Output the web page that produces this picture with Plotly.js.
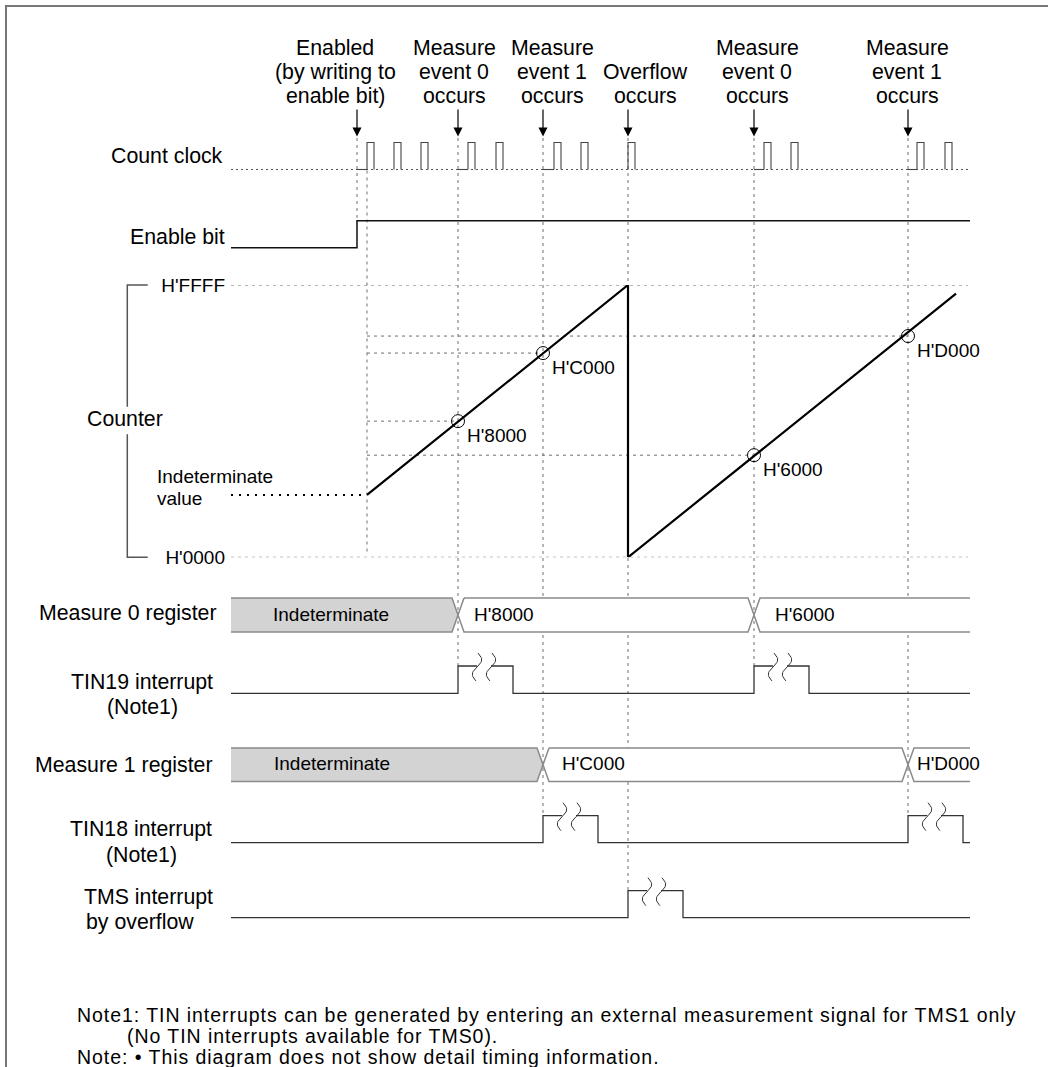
<!DOCTYPE html>
<html>
<head>
<meta charset="utf-8">
<script src="https://cdn.plot.ly/plotly-3.0.1.min.js"></script>
<style>html,body{margin:0;padding:0;background:#fff}#chart{width:1048px;height:1067px}</style>
</head>
<body>
<div id="chart"></div>
<script>
// ================= DATA (time units along the diagram) =================
const eventTimes = [357, 458, 543, 628, 754, 908];
const eventLabels = [
  ["Enabled", "(by writing to", "enable bit)"],
  ["Measure", "event 0", "occurs"],
  ["Measure", "event 1", "occurs"],
  ["Overflow", "occurs"],
  ["Measure", "event 0", "occurs"],
  ["Measure", "event 1", "occurs"]
];
const clockPulseTimes = [367, 394, 421, 468, 496, 554, 581, 628, 764, 791, 917, 945];
const clockPulseWidth = 7;
const traceStart = 231;
const traceEnd = 970;
const clockEnd = 969;

const enableTimes = [231, 357, 357, 970];
const enableLevels = [0, 0, 1, 1];

const counterStartTime = 367;
const indeterminateValue = 15000;
const counterTimes = [367, 628, 628, 956];
const counterValues = [15000, 65535, 0, 63450];
const counterTickValues = [0x0000, 0xFFFF];
const counterTickLabels = ["H'0000", "H'FFFF"];

const captureTimes = [458, 543, 754, 908];
const captureValues = [0x8000, 0xC000, 0x6000, 0xD000];
const captureLabels = ["H'8000", "H'C000", "H'6000", "H'D000"];

const measure0Times = [231, 458, 754];
const measure0Values = ["Indeterminate", "H'8000", "H'6000"];
const measure1Times = [231, 543, 908];
const measure1Values = ["Indeterminate", "H'C000", "H'D000"];

const tin19PulseTimes = [458, 754];
const tin18PulseTimes = [543, 908];
const tmsPulseTimes = [628];
const interruptPulseWidth = 55;

const noteLines = [
  "Note1: TIN interrupts can be generated by entering an external measurement signal for TMS1 only",
  "(No TIN interrupts available for TMS0).",
  "Note: \u2022 This diagram does not show detail timing information."
];

// ================= LAYOUT / STYLE =================
const W = 1048, H = 1067;
const FONT = "Liberation Sans, Arial, Helvetica, sans-serif";
const BIG = 21.3, SMALL = 19, NOTE = 19.5;
const Y = {
  evLines3: [47.7, 72, 95.5], evLines2: [72, 95.5],
  arrowTop: 108, arrowTip: 136.5,
  clkBase: 169.5, clkHigh: 142.5,
  enLow: 247.7, enHigh: 220.7,
  cntTop: 285, cntBot: 557.3,
  m0Top: 598, m0Bot: 632,
  tin19Low: 693.3, tin19High: 666,
  m1Top: 748, m1Bot: 781.5,
  tin18Low: 842.7, tin18High: 815.7,
  tmsLow: 917.7, tmsHigh: 890.7
};
const eventLabelX = [335, 454, 552, 645, 757, 907];
const eventLineStart = 138;
const eventLineEnd = [Y.enHigh, Y.tin19High, Y.tin18High, Y.tmsHigh, Y.tin19High, Y.tin18High];
const counterStartLine = [Y.clkBase + 1, 553];
const gridEnd = 968;
const m0LabelOffsets = [40, 14, 19];
const m1LabelOffsets = [41, 17, 7];
const squiggleOffsets = [19, 33];
const transHalf = 6;

const GRID = {color: '#6f6f6f', width: 1, dash: '3px,4px'};
const WAVE = {color: '#333', width: 1.3};

const traces = [];
const y2dom = [(H - Y.cntBot) / H, (H - Y.cntTop) / H];

// frame
traces.push({x: [W, 6, 6], y: [6, 6, H], mode: 'lines', line: {color: '#777', width: 2}, hoverinfo: 'skip'});

// vertical event dashed lines
{
  const xs = [], ys = [];
  eventTimes.forEach((t, i) => { xs.push(t, t, null); ys.push(eventLineStart, eventLineEnd[i], null); });
  xs.push(counterStartTime, counterStartTime); ys.push(counterStartLine[0], counterStartLine[1]);
  traces.push({x: xs, y: ys, mode: 'lines', line: GRID, hoverinfo: 'skip'});
}

// clock baseline dotted
traces.push({x: [traceStart, clockEnd], y: [Y.clkBase, Y.clkBase], mode: 'lines',
  line: {color: '#555', width: 1, dash: '2px,3px'}, hoverinfo: 'skip'});
// clock pulses + lead segments after events
{
  const xs = [], ys = [];
  clockPulseTimes.forEach(t => {
    xs.push(t, t, t + clockPulseWidth, t + clockPulseWidth, null);
    ys.push(Y.clkBase, Y.clkHigh, Y.clkHigh, Y.clkBase, null);
  });
  eventTimes.forEach(t => {
    const nxt = clockPulseTimes.find(p => p >= t);
    if (nxt !== undefined && nxt > t) { xs.push(t, nxt, null); ys.push(Y.clkBase, Y.clkBase, null); }
  });
  traces.push({x: xs, y: ys, mode: 'lines', line: {color: '#444', width: 1.1}, hoverinfo: 'skip'});
}

// enable bit
traces.push({x: enableTimes, y: enableLevels.map(v => v ? Y.enHigh : Y.enLow), mode: 'lines',
  line: {color: '#111', width: 1.5}, hoverinfo: 'skip'});

// counter bracket
traces.push({x: [147.7, 127.3, 127.3, null, 127.3, 127.3, 147.7], y: [Y.cntTop, Y.cntTop, 406.7, null, 434.3, Y.cntBot, Y.cntBot],
  mode: 'lines', line: {color: '#555', width: 1.5}, hoverinfo: 'skip'});

// counter grid lines (y2)
traces.push({x: [traceStart, gridEnd, null, traceStart, gridEnd], y: [65535, 65535, null, 0, 0],
  yaxis: 'y2', mode: 'lines', line: GRID, hoverinfo: 'skip'});
{
  const xs = [], ys = [];
  captureTimes.forEach((t, i) => { xs.push(counterStartTime, t, null); ys.push(captureValues[i], captureValues[i], null); });
  traces.push({x: xs, y: ys, yaxis: 'y2', mode: 'lines', line: GRID, hoverinfo: 'skip'});
}
// indeterminate dotted
traces.push({x: [traceStart, counterStartTime], y: [indeterminateValue, indeterminateValue], yaxis: 'y2',
  mode: 'lines', line: {color: '#000', width: 2, dash: '2px,6px'}, hoverinfo: 'skip'});
// counter ramp
traces.push({x: counterTimes, y: counterValues, yaxis: 'y2', mode: 'lines',
  line: {color: '#000', width: 2.2}, hoverinfo: 'skip'});
// capture circles
traces.push({x: captureTimes, y: captureValues, yaxis: 'y2', mode: 'markers',
  marker: {symbol: 'circle-open', size: 13, color: '#000', line: {width: 1, color: '#000'}}, hoverinfo: 'skip'});

// register bands
const annotations = [];
function registerBand(times, values, top, bot, offsets) {
  const mid = (top + bot) / 2, h = transHalf;
  times.forEach((s, i) => {
    const last = i === times.length - 1;
    const e = last ? traceEnd : times[i + 1];
    const indet = values[i] === "Indeterminate";
    let ox, oy;
    const leftTip = i > 0;
    const L = leftTip ? {x: [s + h, s, s + h], y: [top, mid, bot]} : {x: [s, s], y: [top, bot]};
    const R = last ? {x: [e, e], y: [top, bot]} : {x: [e - h, e, e - h], y: [top, mid, bot]};
    const fx = [L.x[0]].concat(R.x, L.x.slice(1).reverse());
    const fy = [L.y[0]].concat(R.y, L.y.slice(1).reverse());
    traces.push({x: fx.concat([fx[0]]), y: fy.concat([fy[0]]), mode: 'lines', fill: 'toself',
      fillcolor: indet ? '#d3d3d3' : '#ffffff', line: {width: 0}, hoverinfo: 'skip'});
    if (last) {
      ox = [e].concat(L.x, [e]); oy = [top].concat(L.y, [bot]);
    } else if (!leftTip) {
      ox = [s].concat(R.x, [s]); oy = [top].concat(R.y, [bot]);
    } else {
      ox = fx.concat([fx[0]]); oy = fy.concat([fy[0]]);
    }
    traces.push({x: ox, y: oy, mode: 'lines', line: {color: '#8a8a8a', width: 1.5}, hoverinfo: 'skip'});
    annotations.push({x: s + offsets[i], y: mid - 1, xref: 'x', yref: 'y', text: values[i], showarrow: false,
      xanchor: 'left', yanchor: 'middle', font: {family: FONT, size: SMALL, color: '#000'}});
  });
}
registerBand(measure0Times, measure0Values, Y.m0Top, Y.m0Bot, m0LabelOffsets);
registerBand(measure1Times, measure1Values, Y.m1Top, Y.m1Bot, m1LabelOffsets);

// interrupt lines
function interruptLane(pulses, low, high) {
  const xs = [], ys = [];
  let cur = traceStart;
  const sx = [], sy = [];
  pulses.forEach(t => {
    const f = t + interruptPulseWidth;
    const c1 = t + squiggleOffsets[0], c2 = t + squiggleOffsets[1];
    xs.push(cur, t, t, c1, null, c2, f, f);
    ys.push(low, low, high, high, null, high, high, low);
    cur = f;
    [c1, c2].forEach(c => {
      for (let k = 0; k <= 30; k++) {
        const s = k / 30;
        sx.push(c + 4.2 * Math.sin(2 * Math.PI * s) + 2 * (0.5 - s));
        sy.push(high - 13 + 28 * s);
      }
      sx.push(null); sy.push(null);
    });
  });
  xs.push(cur, traceEnd); ys.push(low, low);
  traces.push({x: xs, y: ys, mode: 'lines', line: WAVE, hoverinfo: 'skip'});
  traces.push({x: sx, y: sy, mode: 'lines', line: {color: '#333', width: 1}, hoverinfo: 'skip'});
}
interruptLane(tin19PulseTimes, Y.tin19Low, Y.tin19High);
interruptLane(tin18PulseTimes, Y.tin18Low, Y.tin18High);
interruptLane(tmsPulseTimes, Y.tmsLow, Y.tmsHigh);

// ---------------- text ----------------
function txt(x, y, text, xanchor, size, yref) {
  annotations.push({x, y, xref: 'x', yref: yref || 'y', text, showarrow: false, xanchor: xanchor || 'center',
    align: xanchor || 'center', yanchor: 'middle', font: {family: FONT, size: size || BIG, color: '#000'}});
}
eventLabels.forEach((lines, i) => {
  const ys = lines.length === 3 ? Y.evLines3 : Y.evLines2;
  lines.forEach((l, j) => txt(eventLabelX[i], ys[j], l, 'center', BIG));
  annotations.push({x: eventTimes[i], y: Y.arrowTip, xref: 'x', yref: 'y', ax: 0, ay: -(Y.arrowTip - Y.arrowTop),
    text: '', showarrow: true, arrowhead: 2, arrowsize: 1.5, arrowwidth: 1.2, arrowcolor: '#000', standoff: 0});
});
txt(225, 155.7, "Count clock", 'right');
txt(227, 236.7, "Enable bit", 'right');
txt(125.3, 419, "Counter", 'center');
txt(155, 476.7, "Indeterminate", 'left', SMALL);
txt(155, 498.3, "value", 'left', SMALL);
txt(219, 613, "Measure 0 register", 'right');
txt(142, 681.7, "TIN19 interrupt", 'center');
txt(142, 706.7, "(Note1)", 'center');
txt(215, 765, "Measure 1 register", 'right');
txt(141, 829, "TIN18 interrupt", 'center');
txt(141, 855, "(Note1)", 'center');
txt(82, 896.7, "TMS interrupt", 'left');
txt(84, 921.7, "by overflow", 'left');
captureTimes.forEach((t, i) => {
  annotations.push({x: t + 7, y: captureValues[i], xref: 'x', yref: 'y2', yshift: -14, text: captureLabels[i],
    showarrow: false, xanchor: 'left', yanchor: 'middle', font: {family: FONT, size: SMALL, color: '#000'}});
});
txt(75, 1015, noteLines[0], 'left', NOTE);
txt(125, 1035.5, noteLines[1], 'left', NOTE);
txt(75, 1056.7, noteLines[2], 'left', NOTE);

const layout = {
  width: W, height: H,
  margin: {l: 0, r: 0, t: 0, b: 0},
  paper_bgcolor: '#fff', plot_bgcolor: 'rgba(0,0,0,0)',
  showlegend: false,
  xaxis: {range: [0, W], visible: false, fixedrange: true},
  yaxis: {range: [H, 0], visible: false, fixedrange: true, domain: [0, 1]},
  yaxis2: {domain: y2dom, range: [0, 65535], anchor: 'free', position: 225 / W, side: 'left',
    tickvals: counterTickValues, ticktext: counterTickLabels, ticks: '', showline: false, showgrid: false,
    zeroline: false, tickfont: {family: FONT, size: SMALL, color: '#000'}, fixedrange: true},
  annotations: annotations
};

Plotly.newPlot('chart', traces, layout, {staticPlot: true, displayModeBar: false}).then(gd => {
  gd.querySelectorAll('text.annotation-text').forEach(el => {
    if (noteLines.indexOf(el.textContent) >= 0) el.style.letterSpacing = '0.95px';
  });
});
</script>
</body>
</html>
